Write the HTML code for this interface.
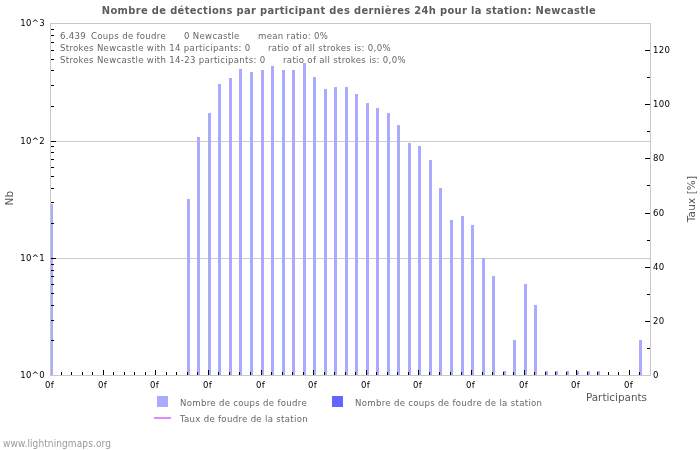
<!DOCTYPE html><html><head><meta charset="utf-8"><style>html,body{margin:0;padding:0;background:#fff;}svg{display:block;will-change:transform;font-family:'DejaVu Sans Condensed','DejaVu Sans',sans-serif}text{white-space:pre}</style></head><body>
<svg width="700" height="450" viewBox="0 0 700 450">
<rect x="0" y="0" width="700" height="450" fill="#fff"/>
<g shape-rendering="crispEdges">
<rect x="51" y="141" width="599" height="1" fill="#cccccc"/>
<rect x="51" y="258" width="599" height="1" fill="#cccccc"/>
<rect x="50" y="204" width="3" height="171" fill="#aaaaff"/>
<rect x="187" y="199" width="3" height="176" fill="#aaaaff"/>
<rect x="197" y="137" width="3" height="238" fill="#aaaaff"/>
<rect x="208" y="113" width="3" height="262" fill="#aaaaff"/>
<rect x="218" y="84" width="3" height="291" fill="#aaaaff"/>
<rect x="229" y="78" width="3" height="297" fill="#aaaaff"/>
<rect x="239" y="69" width="3" height="306" fill="#aaaaff"/>
<rect x="250" y="72" width="3" height="303" fill="#aaaaff"/>
<rect x="261" y="70" width="3" height="305" fill="#aaaaff"/>
<rect x="271" y="66" width="3" height="309" fill="#aaaaff"/>
<rect x="282" y="70" width="3" height="305" fill="#aaaaff"/>
<rect x="292" y="70" width="3" height="305" fill="#aaaaff"/>
<rect x="303" y="63" width="3" height="312" fill="#aaaaff"/>
<rect x="313" y="77" width="3" height="298" fill="#aaaaff"/>
<rect x="324" y="89" width="3" height="286" fill="#aaaaff"/>
<rect x="334" y="87" width="3" height="288" fill="#aaaaff"/>
<rect x="345" y="87" width="3" height="288" fill="#aaaaff"/>
<rect x="355" y="94" width="3" height="281" fill="#aaaaff"/>
<rect x="366" y="103" width="3" height="272" fill="#aaaaff"/>
<rect x="376" y="108" width="3" height="267" fill="#aaaaff"/>
<rect x="387" y="113" width="3" height="262" fill="#aaaaff"/>
<rect x="397" y="125" width="3" height="250" fill="#aaaaff"/>
<rect x="408" y="143" width="3" height="232" fill="#aaaaff"/>
<rect x="418" y="146" width="3" height="229" fill="#aaaaff"/>
<rect x="429" y="160" width="3" height="215" fill="#aaaaff"/>
<rect x="439" y="188" width="3" height="187" fill="#aaaaff"/>
<rect x="450" y="220" width="3" height="155" fill="#aaaaff"/>
<rect x="461" y="216" width="3" height="159" fill="#aaaaff"/>
<rect x="471" y="225" width="3" height="150" fill="#aaaaff"/>
<rect x="482" y="258" width="3" height="117" fill="#aaaaff"/>
<rect x="492" y="276" width="3" height="99" fill="#aaaaff"/>
<rect x="503" y="371" width="3" height="4" fill="#aaaaff"/>
<rect x="513" y="340" width="3" height="35" fill="#aaaaff"/>
<rect x="524" y="284" width="3" height="91" fill="#aaaaff"/>
<rect x="534" y="305" width="3" height="70" fill="#aaaaff"/>
<rect x="545" y="371" width="3" height="4" fill="#aaaaff"/>
<rect x="555" y="371" width="3" height="4" fill="#aaaaff"/>
<rect x="566" y="371" width="3" height="4" fill="#aaaaff"/>
<rect x="576" y="371" width="3" height="4" fill="#aaaaff"/>
<rect x="587" y="371" width="3" height="4" fill="#aaaaff"/>
<rect x="597" y="371" width="3" height="4" fill="#aaaaff"/>
<rect x="639" y="340" width="3" height="35" fill="#aaaaff"/>
<rect x="50" y="23" width="1" height="353" fill="#c8c8c8"/>
<rect x="650" y="23" width="1" height="353" fill="#c8c8c8"/>
<rect x="50" y="23" width="601" height="1" fill="#c8c8c8"/>
<rect x="50" y="375" width="601" height="1" fill="#c8c8c8"/>
<rect x="51" y="340" width="3" height="1" fill="#000"/>
<rect x="51" y="320" width="3" height="1" fill="#000"/>
<rect x="51" y="305" width="3" height="1" fill="#000"/>
<rect x="51" y="293" width="3" height="1" fill="#000"/>
<rect x="51" y="284" width="3" height="1" fill="#000"/>
<rect x="51" y="276" width="3" height="1" fill="#000"/>
<rect x="51" y="270" width="3" height="1" fill="#000"/>
<rect x="51" y="264" width="3" height="1" fill="#000"/>
<rect x="51" y="258" width="5" height="1" fill="#000"/>
<rect x="51" y="223" width="3" height="1" fill="#000"/>
<rect x="51" y="202" width="3" height="1" fill="#000"/>
<rect x="51" y="188" width="3" height="1" fill="#000"/>
<rect x="51" y="176" width="3" height="1" fill="#000"/>
<rect x="51" y="167" width="3" height="1" fill="#000"/>
<rect x="51" y="159" width="3" height="1" fill="#000"/>
<rect x="51" y="152" width="3" height="1" fill="#000"/>
<rect x="51" y="146" width="3" height="1" fill="#000"/>
<rect x="51" y="141" width="5" height="1" fill="#000"/>
<rect x="51" y="106" width="3" height="1" fill="#000"/>
<rect x="51" y="85" width="3" height="1" fill="#000"/>
<rect x="51" y="70" width="3" height="1" fill="#000"/>
<rect x="51" y="59" width="3" height="1" fill="#000"/>
<rect x="51" y="50" width="3" height="1" fill="#000"/>
<rect x="51" y="42" width="3" height="1" fill="#000"/>
<rect x="51" y="35" width="3" height="1" fill="#000"/>
<rect x="51" y="29" width="3" height="1" fill="#000"/>
<rect x="647" y="348" width="3" height="1" fill="#000"/>
<rect x="645" y="321" width="5" height="1" fill="#000"/>
<rect x="647" y="294" width="3" height="1" fill="#000"/>
<rect x="645" y="267" width="5" height="1" fill="#000"/>
<rect x="647" y="240" width="3" height="1" fill="#000"/>
<rect x="645" y="213" width="5" height="1" fill="#000"/>
<rect x="647" y="185" width="3" height="1" fill="#000"/>
<rect x="645" y="158" width="5" height="1" fill="#000"/>
<rect x="647" y="131" width="3" height="1" fill="#000"/>
<rect x="645" y="104" width="5" height="1" fill="#000"/>
<rect x="647" y="77" width="3" height="1" fill="#000"/>
<rect x="645" y="50" width="5" height="1" fill="#000"/>
<rect x="61" y="372" width="1" height="3" fill="#000"/>
<rect x="71" y="372" width="1" height="3" fill="#000"/>
<rect x="82" y="372" width="1" height="3" fill="#000"/>
<rect x="92" y="372" width="1" height="3" fill="#000"/>
<rect x="103" y="370" width="1" height="5" fill="#000"/>
<rect x="113" y="372" width="1" height="3" fill="#000"/>
<rect x="124" y="372" width="1" height="3" fill="#000"/>
<rect x="134" y="372" width="1" height="3" fill="#000"/>
<rect x="145" y="372" width="1" height="3" fill="#000"/>
<rect x="155" y="370" width="1" height="5" fill="#000"/>
<rect x="166" y="372" width="1" height="3" fill="#000"/>
<rect x="176" y="372" width="1" height="3" fill="#000"/>
<rect x="187" y="372" width="1" height="3" fill="#000"/>
<rect x="197" y="372" width="1" height="3" fill="#000"/>
<rect x="208" y="370" width="1" height="5" fill="#000"/>
<rect x="218" y="372" width="1" height="3" fill="#000"/>
<rect x="229" y="372" width="1" height="3" fill="#000"/>
<rect x="239" y="372" width="1" height="3" fill="#000"/>
<rect x="250" y="372" width="1" height="3" fill="#000"/>
<rect x="261" y="370" width="1" height="5" fill="#000"/>
<rect x="271" y="372" width="1" height="3" fill="#000"/>
<rect x="282" y="372" width="1" height="3" fill="#000"/>
<rect x="292" y="372" width="1" height="3" fill="#000"/>
<rect x="303" y="372" width="1" height="3" fill="#000"/>
<rect x="313" y="370" width="1" height="5" fill="#000"/>
<rect x="324" y="372" width="1" height="3" fill="#000"/>
<rect x="334" y="372" width="1" height="3" fill="#000"/>
<rect x="345" y="372" width="1" height="3" fill="#000"/>
<rect x="355" y="372" width="1" height="3" fill="#000"/>
<rect x="366" y="370" width="1" height="5" fill="#000"/>
<rect x="376" y="372" width="1" height="3" fill="#000"/>
<rect x="387" y="372" width="1" height="3" fill="#000"/>
<rect x="397" y="372" width="1" height="3" fill="#000"/>
<rect x="408" y="372" width="1" height="3" fill="#000"/>
<rect x="418" y="370" width="1" height="5" fill="#000"/>
<rect x="429" y="372" width="1" height="3" fill="#000"/>
<rect x="439" y="372" width="1" height="3" fill="#000"/>
<rect x="450" y="372" width="1" height="3" fill="#000"/>
<rect x="461" y="372" width="1" height="3" fill="#000"/>
<rect x="471" y="370" width="1" height="5" fill="#000"/>
<rect x="482" y="372" width="1" height="3" fill="#000"/>
<rect x="492" y="372" width="1" height="3" fill="#000"/>
<rect x="503" y="372" width="1" height="3" fill="#000"/>
<rect x="513" y="372" width="1" height="3" fill="#000"/>
<rect x="524" y="370" width="1" height="5" fill="#000"/>
<rect x="534" y="372" width="1" height="3" fill="#000"/>
<rect x="545" y="372" width="1" height="3" fill="#000"/>
<rect x="555" y="372" width="1" height="3" fill="#000"/>
<rect x="566" y="372" width="1" height="3" fill="#000"/>
<rect x="576" y="370" width="1" height="5" fill="#000"/>
<rect x="587" y="372" width="1" height="3" fill="#000"/>
<rect x="597" y="372" width="1" height="3" fill="#000"/>
<rect x="608" y="372" width="1" height="3" fill="#000"/>
<rect x="618" y="372" width="1" height="3" fill="#000"/>
<rect x="629" y="370" width="1" height="5" fill="#000"/>
<rect x="639" y="372" width="1" height="3" fill="#000"/>
</g>
<text x="349" y="14" text-anchor="middle" font-weight="bold" font-size="11" letter-spacing="0.36" fill="#5c5c5c">Nombre de détections par participant des dernières 24h pour la station: Newcastle</text>
<text x="45" y="26" text-anchor="end" font-size="9.5" letter-spacing="0.3" fill="#000">10^3</text>
<text x="45" y="144" text-anchor="end" font-size="9.5" letter-spacing="0.3" fill="#000">10^2</text>
<text x="45" y="261" text-anchor="end" font-size="9.5" letter-spacing="0.3" fill="#000">10^1</text>
<text x="45" y="378" text-anchor="end" font-size="9.5" letter-spacing="0.3" fill="#000">10^0</text>
<text x="653" y="378" font-size="9.5" letter-spacing="0.3" fill="#000">0</text>
<text x="653" y="324" font-size="9.5" letter-spacing="0.3" fill="#000">20</text>
<text x="653" y="270" font-size="9.5" letter-spacing="0.3" fill="#000">40</text>
<text x="653" y="216" font-size="9.5" letter-spacing="0.3" fill="#000">60</text>
<text x="653" y="161" font-size="9.5" letter-spacing="0.3" fill="#000">80</text>
<text x="653" y="107" font-size="9.5" letter-spacing="0.3" fill="#000">100</text>
<text x="653" y="53" font-size="9.5" letter-spacing="0.3" fill="#000">120</text>
<text x="49.5" y="388" text-anchor="middle" font-size="9.5" letter-spacing="0.3" fill="#000">0f</text>
<text x="102.5" y="388" text-anchor="middle" font-size="9.5" letter-spacing="0.3" fill="#000">0f</text>
<text x="154.5" y="388" text-anchor="middle" font-size="9.5" letter-spacing="0.3" fill="#000">0f</text>
<text x="207.5" y="388" text-anchor="middle" font-size="9.5" letter-spacing="0.3" fill="#000">0f</text>
<text x="260.5" y="388" text-anchor="middle" font-size="9.5" letter-spacing="0.3" fill="#000">0f</text>
<text x="312.5" y="388" text-anchor="middle" font-size="9.5" letter-spacing="0.3" fill="#000">0f</text>
<text x="365.5" y="388" text-anchor="middle" font-size="9.5" letter-spacing="0.3" fill="#000">0f</text>
<text x="417.5" y="388" text-anchor="middle" font-size="9.5" letter-spacing="0.3" fill="#000">0f</text>
<text x="470.5" y="388" text-anchor="middle" font-size="9.5" letter-spacing="0.3" fill="#000">0f</text>
<text x="523.5" y="388" text-anchor="middle" font-size="9.5" letter-spacing="0.3" fill="#000">0f</text>
<text x="575.5" y="388" text-anchor="middle" font-size="9.5" letter-spacing="0.3" fill="#000">0f</text>
<text x="628.5" y="388" text-anchor="middle" font-size="9.5" letter-spacing="0.3" fill="#000">0f</text>
<text x="12.8" y="198" text-anchor="middle" font-family="'DejaVu Sans', sans-serif" font-size="10.5" letter-spacing="0.1" fill="#555" transform="rotate(-90 12.8 198)">Nb</text>
<text x="695" y="199" text-anchor="middle" font-family="'DejaVu Sans', sans-serif" font-size="10.5" letter-spacing="0.1" fill="#555" transform="rotate(-90 695 199)">Taux [%]</text>
<text x="647" y="401" text-anchor="end" font-family="'DejaVu Sans', sans-serif" font-size="10.4" fill="#555" letter-spacing="0">Participants</text>
<g font-size="9.5" letter-spacing="0.32" fill="#666">
<text x="60" y="39">6.439</text><text x="91" y="39">Coups de foudre</text><text x="184" y="39">0 Newcastle</text><text x="258" y="39">mean ratio: 0%</text>
<text x="60" y="51">Strokes Newcastle with 14 participants: 0</text><text x="268" y="51">ratio of all strokes is: 0,0%</text>
<text x="60" y="63">Strokes Newcastle with 14-23 participants: 0</text><text x="283" y="63">ratio of all strokes is: 0,0%</text>
</g>
<g shape-rendering="crispEdges">
<rect x="157" y="396" width="11" height="11" fill="#aaaaff"/>
<rect x="332" y="396" width="11" height="11" fill="#6464ff"/>
<rect x="154" y="417" width="17" height="2" fill="#e288ff"/>
</g>
<g font-size="9.5" letter-spacing="0.32" fill="#666">
<text x="180" y="406">Nombre de coups de foudre</text>
<text x="355" y="406">Nombre de coups de foudre de la station</text>
<text x="180" y="422">Taux de foudre de la station</text>
</g>
<text x="3" y="447" font-size="10" letter-spacing="0.1" fill="#999">www.lightningmaps.org</text>
</svg></body></html>
